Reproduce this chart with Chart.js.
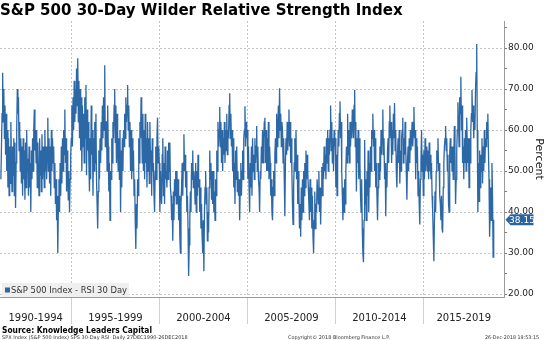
<!DOCTYPE html>
<html><head><meta charset="utf-8">
<script src="https://cdn.jsdelivr.net/npm/chart.js@4.4.1/dist/chart.umd.min.js"></script>
<style>html,body{margin:0;padding:0;background:#fff;overflow:hidden}</style>
</head><body>
<canvas id="c" width="547" height="340"></canvas>
<script>
// ---- data (RSI values, 30 samples per year) ----
const startYear = 1990.99;
const yearStep = 1 / 30;
const rsi1991 = [48, 56, 64, 74, 62, 70, 58, 66, 54, 64, 50, 60, 46, 58, 44, 56, 47, 62, 52, 45, 56, 49, 58, 44, 57, 41, 52, 60, 70, 64];
const rsi1992 = [68, 55, 62, 50, 58, 47, 56, 44, 58, 48, 55, 43, 57, 46, 60, 50, 53, 44, 56, 46, 52, 40, 55, 48, 58, 50, 60, 65, 55, 60];
const rsi1993 = [52, 60, 46, 57, 50, 44, 58, 49, 55, 45, 59, 48, 56, 52, 46, 60, 50, 56, 48, 55, 63, 50, 58, 47, 56, 44, 60, 50, 58, 52];
const rsi1994 = [56, 46, 52, 42, 48, 38, 44, 30, 42, 48, 40, 52, 44, 56, 47, 58, 50, 60, 54, 65, 52, 58, 45, 55, 48, 43, 50, 40, 48, 54];
const rsi1995 = [58, 66, 56, 68, 60, 72, 62, 70, 64, 75, 66, 77.5, 62, 72, 58, 70, 55, 68, 50, 66, 56, 64, 52, 68, 58, 71, 49, 65, 55, 62];
const rsi1996 = [52, 45, 58, 48, 66, 54, 60, 44, 58, 50, 62, 52, 64, 48, 42, 36, 45, 55, 48, 58, 52, 62, 55, 66, 58, 68, 60, 75.8, 56, 62];
const rsi1997 = [62, 50, 66, 56, 45, 52, 38, 50, 48, 58, 52, 62, 58, 66, 70, 57, 66, 52, 64, 55, 50, 58, 48, 60, 40, 55, 46, 58, 50, 60];
const rsi1998 = [56, 64, 58, 68, 62, 66, 71, 60, 66, 56, 62, 50, 60, 48, 58, 50, 55, 44, 48, 38, 31, 42, 36, 48, 44, 58, 52, 62, 58, 68];
const rsi1999 = [62, 52, 64, 50, 60, 48, 64, 52, 58, 46, 62, 50, 58, 47, 62, 52, 55, 44, 58, 50, 52, 44, 40, 50, 56, 48, 58, 63, 52, 56];
const rsi2000 = [52, 40, 50, 44, 42, 54, 58, 44, 52, 42, 56, 48, 50, 46, 55, 48, 57, 50, 57, 46, 44, 38, 42, 33, 45, 38, 48, 44, 50, 42];
const rsi2001 = [50, 42, 48, 38, 44, 34, 30, 42, 46, 52, 44, 52, 59, 50, 54, 46, 50, 40, 44, 36, 24.4, 32, 38, 45, 40, 52, 48, 55, 46, 50];
const rsi2002 = [48, 42, 52, 40, 50, 44, 54, 46, 48, 40, 46, 36, 42, 34, 30, 38, 25.6, 40, 46, 50, 42, 46, 33, 40, 35, 46, 55, 48, 52, 43];
const rsi2003 = [50, 42, 50, 40, 45, 38, 48, 44, 55, 50, 62, 56, 60, 65.6, 56, 62, 52, 60, 50, 58, 54, 62, 52, 60, 55, 64, 54, 60, 58, 66];
const rsi2004 = [69, 58, 64, 56, 60, 50, 58, 46, 52, 42, 55, 48, 56, 45, 50, 44, 48, 38, 46, 52, 44, 50, 55, 48, 58, 60, 65.8, 56, 62, 58];
const rsi2005 = [60, 48, 56, 46, 40, 52, 46, 56, 44, 58, 50, 54, 48, 58, 52, 56, 61, 50, 56, 48, 46, 40, 50, 48, 56, 52, 60, 52, 58, 62];
const rsi2006 = [63, 52, 60, 50, 58, 50, 62, 48, 56, 52, 44, 48, 40, 38, 46, 50, 44, 54, 58, 52, 64, 56, 60, 66, 58, 70.2, 60, 64, 56, 62];
const rsi2007 = [60, 52, 58, 48, 39, 52, 58, 54, 62, 55, 60, 65, 56, 62, 52, 58, 50, 42, 37, 46, 52, 58, 50, 60, 48, 54, 42, 50, 44, 36];
const rsi2008 = [42, 34, 46, 38, 48, 40, 50, 44, 52, 46, 55, 48, 54, 50, 46, 42, 38, 48, 40, 46, 36, 44, 34, 30, 38, 45, 36, 42, 40, 48];
const rsi2009 = [48, 42, 50, 40, 46, 37, 45, 51, 44, 52, 48, 56, 50, 54, 48, 58, 52, 60, 50, 58, 54, 60, 66, 55, 62, 52, 58, 50, 60, 56];
const rsi2010 = [58, 46, 54, 44, 52, 60, 56, 64, 67, 58, 62, 50, 44, 38, 46, 40, 48, 42, 50, 56, 52, 64, 54, 60, 52, 62, 56, 62, 58, 65];
const rsi2011 = [62, 58, 66, 69.8, 56, 62, 45, 58, 52, 60, 48, 58, 52, 44, 40, 48, 36, 30, 27.8, 38, 57.6, 42, 48, 38, 50, 44, 55, 40, 52, 46];
const rsi2012 = [56, 50, 60, 58, 64, 56, 60, 50, 58, 46, 52, 44, 38, 46, 52, 48, 56, 50, 60, 54, 60, 65, 54, 58, 48, 52, 39, 50, 46, 55];
const rsi2013 = [58, 52, 62, 66, 58, 62, 52, 60, 54, 64, 58, 66.6, 55, 60, 50, 46, 54, 58, 52, 60, 47, 55, 50, 58, 60, 63, 52, 58, 54, 62];
const rsi2014 = [56, 50, 43, 52, 56, 50, 58, 52, 60, 55, 58, 62, 56, 60, 65.6, 58, 60, 48, 58, 52, 56, 44, 50, 42, 37, 48, 52, 60, 50, 54];
const rsi2015 = [44, 55, 48, 58, 50, 54, 56, 50, 55, 48, 57, 50, 54, 48, 52, 44, 40, 34, 28, 38, 45, 40, 50, 55, 52, 58, 50, 52, 44, 42];
const rsi2016 = [38, 44, 36, 35, 46, 52, 56, 58, 61, 55, 58, 50, 54, 42, 40, 54, 58, 52, 56, 50, 56, 48, 54, 61, 55, 42, 48, 55, 60, 66.8];
const rsi2017 = [62, 56, 68, 64, 73, 60, 66, 52, 56, 48, 58, 52, 60, 50, 63, 56, 52, 58, 46, 58, 52, 60, 64, 69.8, 62, 66, 58, 64, 60, 70];
const rsi2018 = [74, 81, 60, 40, 52, 42.6, 55, 46, 54, 50, 58, 47, 56, 50, 60, 52, 58, 56, 62, 58, 64, 55, 48, 34, 40, 46, 38, 52, 44, 29];
const lastValue = 38.15;

const periodLabels = ['1990-1994', '1995-1999', '2000-2004', '2005-2009', '2010-2014', '2015-2019'];
const periodBounds = [1995, 2000, 2005, 2010, 2015];
const yTickValues = [20, 25, 30, 35, 40, 45, 50, 55, 60, 65, 70, 75, 80, 85];
const seriesName = 'S&P 500 Index - RSI 30 Day';
const titleText = 'S&P 500 30-Day Wilder Relative Strength Index';
const sourceText = 'Source: Knowledge Leaders Capital';
const footLeft = 'SPX Index (S&P 500 Index) SPS 30-Day RSI  Daily 27DEC1990-26DEC2018';
const footMid = 'Copyright\u00A9 2018 Bloomberg Finance L.P.';
const footRight = '26-Dec-2018 19:53:15';

// ---- build ----
const allValues = [].concat(rsi1991, rsi1992, rsi1993, rsi1994, rsi1995, rsi1996, rsi1997,
  rsi1998, rsi1999, rsi2000, rsi2001, rsi2002, rsi2003, rsi2004, rsi2005, rsi2006, rsi2007,
  rsi2008, rsi2009, rsi2010, rsi2011, rsi2012, rsi2013, rsi2014, rsi2015, rsi2016, rsi2017,
  rsi2018, [lastValue]);
const points = allValues.map((v, i) => ({ x: startYear + i * yearStep, y: v }));

const xMin = 1990.94, xMax = 2019.575;
const FONT = 'DejaVu Sans';
const BLUE = '#2c67a6';

const extras = {
  id: 'extras',
  afterDatasetsDraw(chart) {
    const { ctx, chartArea: a, scales } = chart;
    ctx.save();
    // legend box
    ctx.fillStyle = '#efefef';
    ctx.fillRect(a.left + 2, a.bottom - 14, 127, 14);
    ctx.fillStyle = BLUE;
    ctx.fillRect(a.left + 5, a.bottom - 9.5, 5, 5);
    ctx.fillStyle = '#333';
    ctx.font = '9px "' + FONT + '"';
    ctx.textBaseline = 'middle';
    ctx.fillText(seriesName, a.left + 11, a.bottom - 6.5, 116);
    // last value tag
    const y = scales.y.getPixelForValue(lastValue);
    const x0 = a.right + 1.5;
    ctx.fillStyle = '#2a64a0';
    ctx.beginPath();
    ctx.moveTo(x0, y);
    ctx.lineTo(x0 + 5, y - 5.5);
    ctx.lineTo(x0 + 28, y - 5.5);
    ctx.lineTo(x0 + 28, y + 5.5);
    ctx.lineTo(x0 + 5, y + 5.5);
    ctx.closePath();
    ctx.fill();
    ctx.fillStyle = '#fff';
    ctx.textAlign = 'center';
    ctx.fillText(lastValue.toFixed(2), x0 + 16.5, y + 0.5);
    ctx.restore();
  },
  afterDraw(chart) {
    const { ctx } = chart;
    ctx.save();
    ctx.fillStyle = '#000';
    ctx.textBaseline = 'alphabetic';
    ctx.font = 'bold 9px "' + FONT + '"';
    ctx.fillText(sourceText, 2, 333, 150);
    ctx.fillStyle = '#333';
    ctx.font = '5px "' + FONT + '"';
    ctx.fillText(footLeft, 2, 339, 188);
    ctx.textAlign = 'center';
    ctx.fillText(footMid, 339, 339, 102);
    ctx.textAlign = 'right';
    ctx.fillText(footRight, 539, 339, 54);
    ctx.restore();
  }
};

new Chart(document.getElementById('c'), {
  type: 'line',
  data: { datasets: [{ label: seriesName, data: points, borderColor: BLUE, borderWidth: 1.3,
    pointRadius: 0, fill: false, tension: 0 }] },
  options: {
    responsive: false, animation: false, events: [],
    layout: { padding: 0 },
    plugins: {
      legend: { display: false }, tooltip: { enabled: false },
      title: { display: true, text: titleText, align: 'start', color: '#000',
        font: { family: FONT, size: 15, weight: 'bold' }, padding: { top: 2, bottom: 1 } }
    },
    scales: {
      x: {
        type: 'linear', position: 'bottom', min: xMin, max: xMax, weight: 0,
        afterBuildTicks: s => { s.ticks = periodBounds.map(v => ({ value: v })); },
        afterFit: s => { s.height = 0; },
        ticks: { display: false },
        grid: { color: '#c4c4c4', lineWidth: 1, tickLength: 27, tickColor: '#d0d0d0' },
        border: { display: true, color: '#9a9a9a', width: 1, dash: [2, 2] }
      },
      x2: {
        type: 'linear', position: 'bottom', min: xMin, max: xMax, weight: 1,
        afterBuildTicks: s => {
          const b = [xMin].concat(periodBounds, [xMax]);
          s.ticks = periodLabels.map((_, i) => ({ value: (b[i] + b[i + 1]) / 2 }));
        },
        afterFit: s => { s.height = 43; },
        ticks: { callback: (v, i) => periodLabels[i], autoSkip: false, maxRotation: 0,
          padding: 7, color: '#222', font: { family: FONT, size: 10 } },
        grid: { display: false }, border: { display: false }
      },
      y: {
        type: 'linear', position: 'right', min: 19.3, max: 86.6,
        afterBuildTicks: s => { s.ticks = yTickValues.map(v => ({ value: v })); },
        afterFit: s => { s.width = 43; },
        ticks: { callback: v => (v % 10 === 0 && v <= 80) ? v.toFixed(2) : '', padding: 1,
          color: '#222', font: { family: FONT, size: 9 }, autoSkip: false },
        grid: { color: c => (c.tick && c.tick.value % 10 === 0 && c.tick.value <= 80) ? '#c4c4c4' : 'rgba(0,0,0,0)',
          tickColor: '#777', tickLength: 3, lineWidth: 1 },
        border: { display: true, color: '#9a9a9a', width: 1, dash: [2, 2] },
        title: { display: true, text: 'Percent', color: '#222', font: { family: FONT, size: 11 },
          padding: { top: 2, bottom: 0 } }
      }
    }
  },
  plugins: [extras]
});
</script>
</body></html>
